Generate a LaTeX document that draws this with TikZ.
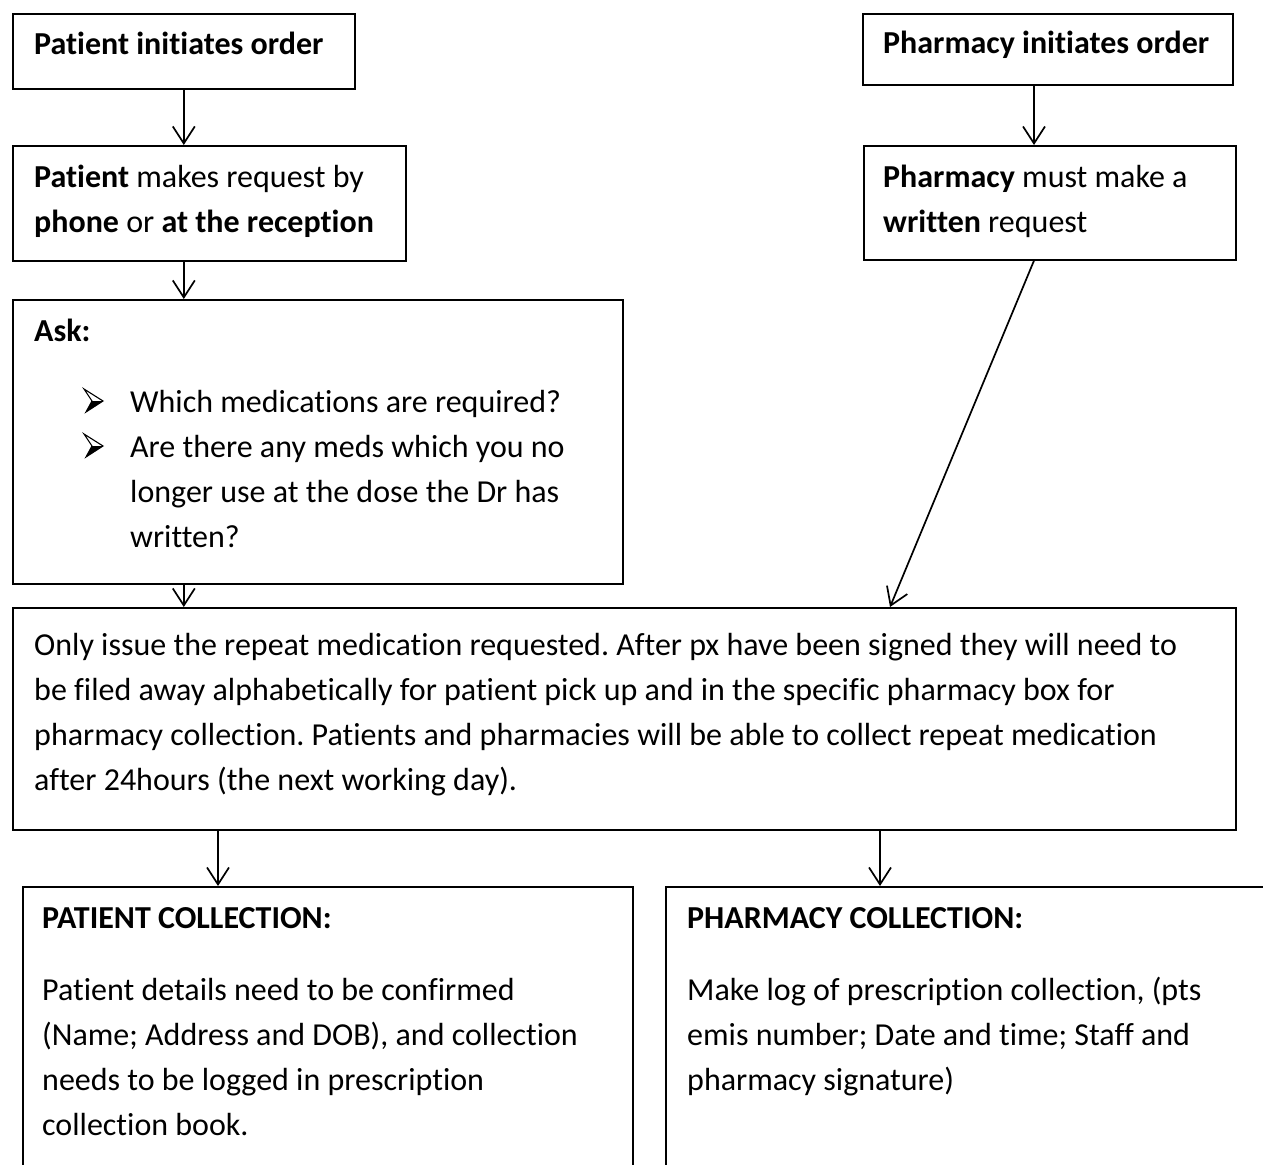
\documentclass[tikz,border=0pt]{standalone}
\usepackage{fontspec}
\setmainfont{Carlito}[Ligatures={NoCommon}]
\usetikzlibrary{arrows.meta}
\frenchspacing
\begin{document}
\begin{tikzpicture}[x=1pt,y=-1pt,
  box/.style={draw, line width=1.6pt, inner sep=0pt, anchor=north west},
  txt/.style={inner sep=0pt, anchor=base west, font=\fontsize{32}{38}\selectfont},
  bt/.style={txt, font=\fontsize{32}{38}\selectfont\bfseries},
  conn/.style={line width=1.7pt, -{Straight Barb[length=17pt,width=22pt]}},
  bulletmark/.pic={
    \fill (8,12) -- (19,12) -- (2,23) -- cycle;
    \draw[line width=1.1pt, line join=miter] (0,0) -- (19,12) -- (2,23) -- (8,12) -- cycle;
  }]
\useasboundingbox (0,0) rectangle (1263,1164);
\clip (0,0) rectangle (1263,1164);
% boxes
\node[box, minimum width=342pt, minimum height=75pt] (b1) at (12,13) {};
\node[box, minimum width=393pt, minimum height=115pt] (b2) at (12,145) {};
\node[box, minimum width=610pt, minimum height=284pt] (b3) at (12,299) {};
\node[box, minimum width=370pt, minimum height=71pt] (b4) at (862,13) {};
\node[box, minimum width=372pt, minimum height=114pt] (b5) at (863,145) {};
\node[box, minimum width=1223pt, minimum height=222pt] (b6) at (12,607) {};
\node[box, minimum width=610pt, minimum height=320pt] (b7) at (22,886) {};
\node[box, minimum width=650pt, minimum height=320pt] (b8) at (665,886) {};
% texts
\node[bt] (t1) at (34,55) {Patient initiates order};
\node[txt] (t2) at (34,187) {\textbf{Patient} makes request by};
\node[txt] (t3) at (34,232) {\textbf{phone} or \textbf{at the reception}};
\node[bt] (t4) at (883,54) {Pharmacy initiates order};
\node[txt] (t5) at (883,187) {\textbf{Pharmacy} must make a};
\node[txt] (t6) at (883,232) {\textbf{written} request};
\node[bt] (t7) at (34,341) {Ask:};
\pic at (84,389) {bulletmark};
\node[txt] (t8) at (130,412) {Which medications are required?};
\pic at (84,434) {bulletmark};
\node[txt] (t9) at (130,457) {Are there any meds which you no};
\node[txt] (t10) at (130,502) {longer use at the dose the Dr has};
\node[txt] (t11) at (130,547) {written?};
\node[txt] (t12) at (34,655) {Only issue the repeat medication requested. After px have been signed they will need to};
\node[txt] (t13) at (34,700) {be filed away alphabetically for patient pick up and in the specific pharmacy box for};
\node[txt] (t14) at (34,745) {pharmacy collection. Patients and pharmacies will be able to collect repeat medication};
\node[txt] (t15) at (34,790) {after 24hours (the next working day).};
\node[bt] (t16) at (42,928) {PATIENT COLLECTION:};
\node[txt] (t17) at (42,1000) {Patient details need to be confirmed};
\node[txt] (t18) at (42,1045) {(Name; Address and DOB), and collection};
\node[txt] (t19) at (42,1090) {needs to be logged in prescription};
\node[txt] (t20) at (42,1135) {collection book.};
\node[bt] (t21) at (687,928) {PHARMACY COLLECTION:};
\node[txt] (t22) at (687,1000) {Make log of prescription collection, (pts};
\node[txt] (t23) at (687,1045) {emis number; Date and time; Staff and};
\node[txt] (t24) at (687,1090) {pharmacy signature)};
% connectors
\draw[conn] (b1.south) -- (b1.south |- b2.north);
\draw[conn] (b1.south |- b2.south) -- (b1.south |- b3.north);
\draw[conn] (b1.south |- b3.south) -- (b1.south |- b6.north);
\draw[conn] ([xshift=172pt]b4.south west) -- ([xshift=171pt]b5.north west);
\draw[conn] ([xshift=171pt]b5.south west) -- ([xshift=878pt]b6.north west);
\draw[conn] ([xshift=206pt]b6.south west) -- ([xshift=196pt]b7.north west);
\draw[conn] ([xshift=868pt]b6.south west) -- ([xshift=215pt]b8.north west);
\end{tikzpicture}
\end{document}
